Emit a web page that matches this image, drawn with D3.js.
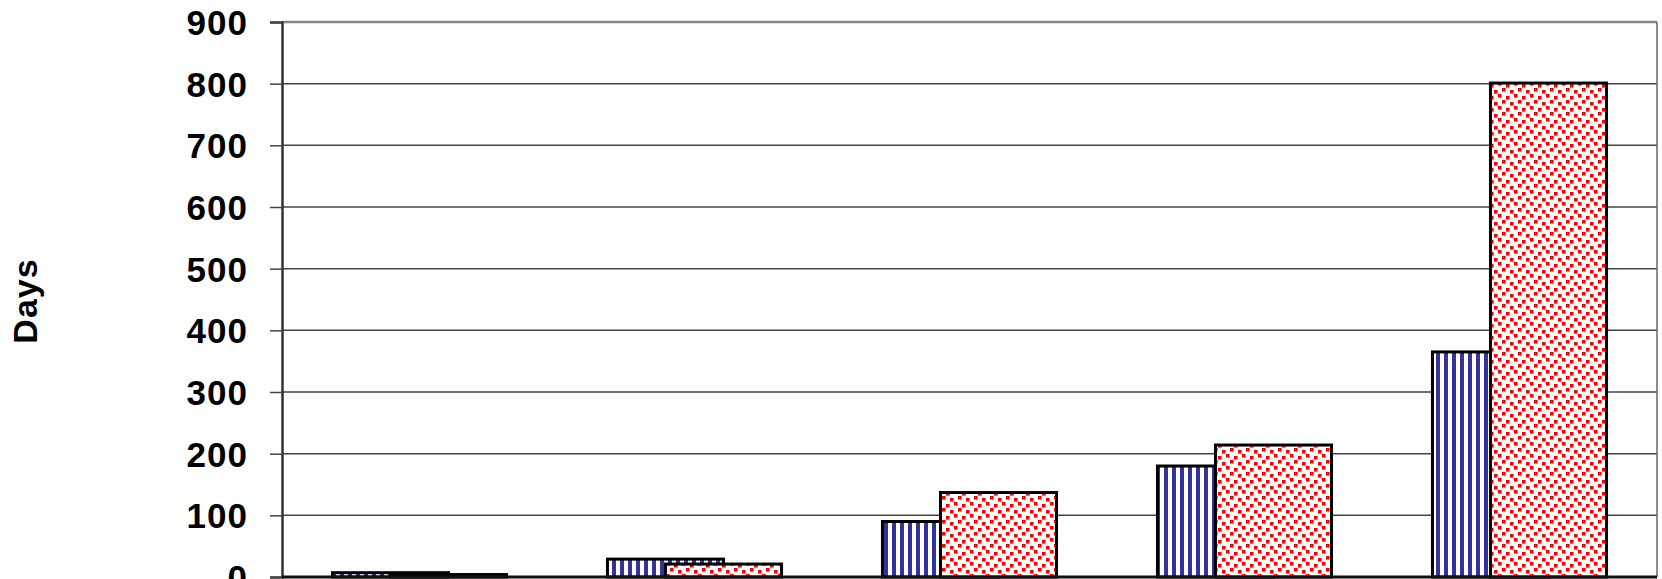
<!DOCTYPE html>
<html lang="en">
<head>
    <meta charset="UTF-8">
    <title>Days bar chart</title>
    <script src="https://d3js.org/d3.v7.min.js"></script>
    <style>
        body { margin: 0; background: #fff; overflow: hidden; }
        svg { display: block; }
        .tick text { font-family: "Liberation Sans", Arial, sans-serif; font-weight: bold; }
    </style>
</head>
<body>
    <svg width="1662" height="579"></svg>
    <script>
        // Data
        const categories = ["1", "2", "3", "4", "5"];
        const seriesA = [7, 29, 90, 180, 365];     // striped blue
        const seriesB = [4, 21, 137, 214, 801];    // red dotted
        const yTicks = [0, 100, 200, 300, 400, 500, 600, 700, 800, 900];

        const margin = { top: 22, right: 5, bottom: 2, left: 282 };
        const width = 1662 - margin.left - margin.right;
        const height = 579 - margin.top - margin.bottom;

        const svg = d3.select("svg");

        // Patterns
        const defs = svg.append("defs");
        const stripes = defs.append("pattern")
            .attr("id", "stripes")
            .attr("patternUnits", "userSpaceOnUse")
            .attr("width", 8).attr("height", 8);
        stripes.append("rect").attr("width", 8).attr("height", 8).attr("fill", "#fff");
        stripes.append("rect").attr("x", 2).attr("width", 4).attr("height", 8).attr("fill", "#333399");

        const dots = defs.append("pattern")
            .attr("id", "dots")
            .attr("patternUnits", "userSpaceOnUse")
            .attr("width", 16).attr("height", 12);
        dots.append("rect").attr("width", 16).attr("height", 12).attr("fill", "#fff");
        [[0, 0], [8, 2], [4, 6], [12, 8]].forEach(p => {
            dots.append("rect").attr("x", p[0]).attr("y", p[1])
                .attr("width", 3.6).attr("height", 3.6).attr("fill", "#ff0000");
        });

        const g = svg.append("g")
            .attr("transform", `translate(${margin.left},${margin.top})`);

        // Scales
        const x = d3.scaleBand().domain(categories).range([0, width])
            .paddingInner(0.367).paddingOuter(0.367 / 2);
        const y = d3.scaleLinear().domain([0, 900]).range([height, 0]);
        const barW = x.bandwidth() / 1.5;

        // Gridlines
        g.append("g")
            .selectAll("line")
            .data(yTicks.filter(d => d > 0))
            .join("line")
            .attr("x1", 0).attr("x2", width)
            .attr("y1", d => y(d)).attr("y2", d => y(d))
            .attr("stroke", d => d === 900 ? "#888" : "#444")
            .attr("stroke-width", d => d === 900 ? 2.5 : 1.5);

        // right border
        g.append("line")
            .attr("x1", width).attr("x2", width)
            .attr("y1", 0).attr("y2", height)
            .attr("stroke", "#666").attr("stroke-width", 1.5);

        // Y axis
        const yAxis = g.append("g")
            .call(d3.axisLeft(y).tickValues(yTicks).tickSize(12).tickPadding(22));
        yAxis.select(".domain").attr("stroke", "#333").attr("stroke-width", 2.5);
        yAxis.selectAll(".tick line").attr("stroke", "#444").attr("stroke-width", 1.5);
        yAxis.selectAll(".tick text")
            .attr("font-size", 35)
            .attr("letter-spacing", 1)
            .attr("fill", "#000")
            .attr("dy", "0.36em");

        // Bars: blue first, red drawn on top with 50% overlap
        g.append("g").selectAll("rect")
            .data(categories)
            .join("rect")
            .attr("x", d => x(d))
            .attr("y", (d, i) => y(seriesA[i]))
            .attr("width", barW)
            .attr("height", (d, i) => height - y(seriesA[i]))
            .attr("fill", "url(#stripes)")
            .attr("stroke", "#000")
            .attr("stroke-width", 3);

        g.append("g").selectAll("rect")
            .data(categories)
            .join("rect")
            .attr("x", d => x(d) + barW / 2)
            .attr("y", (d, i) => y(seriesB[i]))
            .attr("width", barW)
            .attr("height", (d, i) => height - y(seriesB[i]))
            .attr("fill", "url(#dots)")
            .attr("stroke", "#000")
            .attr("stroke-width", 3);

        // baseline
        g.append("line")
            .attr("x1", 0).attr("x2", width)
            .attr("y1", height).attr("y2", height)
            .attr("stroke", "#111").attr("stroke-width", 3);

        // Axis title
        svg.append("text")
            .attr("transform", `translate(37,${301}) rotate(-90)`)
            .attr("text-anchor", "middle")
            .attr("font-family", "Liberation Sans, Arial, sans-serif")
            .attr("font-weight", "bold")
            .attr("font-size", 34)
            .attr("letter-spacing", 1)
            .text("Days");
    </script>
</body>
</html>
